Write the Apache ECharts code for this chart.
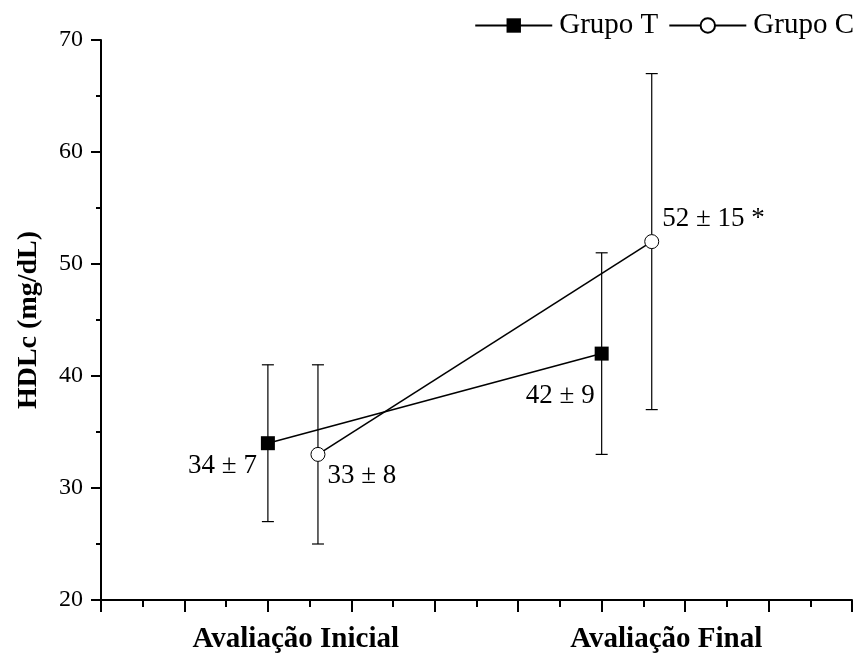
<!DOCTYPE html>
<html>
<head>
<meta charset="utf-8">
<script src="https://cdn.jsdelivr.net/npm/echarts@6/dist/echarts.min.js"></script>
<style>
  html, body { margin: 0; padding: 0; background: #fff; }
  #chart { width: 859px; height: 658px; }
</style>
</head>
<body>
<div id="chart"></div>
<script>
// HDLc means ± SD per group at the two assessments
const phases = ['Avaliação Inicial', 'Avaliação Final'];
const groups = ['Grupo T', 'Grupo C'];

// positions of each group's points along the horizontal scale
const tX = [2, 6];
const cX = [2.6, 6.6];

const tMean = [34, 42];
const tSd = [7, 9];
const cMean = [33, 52];
const cSd = [8, 15];
const cFlags = ['', '*'];   // significance marker

const yTicks = { min: 20, max: 70, step: 10 };
const xScale = { min: 0, max: 9, step: 1 };

const FONT = "'Liberation Serif', 'Times New Roman', serif";

function points(xs, ms) { return xs.map((x, i) => [x, ms[i]]); }
function bars(xs, ms, sds) { return xs.map((x, i) => [x, ms[i] - sds[i], ms[i] + sds[i]]); }
function meanText(m, sd, flag) { return m + ' ± ' + sd + (flag ? ' ' + flag : ''); }

// label placement for each point (relative to symbol box)
const tLabelPos = [
  { position: [-4, 30], align: 'right' },
  { position: [0, 49], align: 'right' }
];
const cLabelPos = [
  { position: [17, 29], align: 'left' },
  { position: [18, -15], align: 'left' }
];

function withLabels(data, pos, texts) {
  return data.map((d, i) => ({
    value: d,
    label: {
      show: true,
      position: pos[i].position,
      align: pos[i].align,
      verticalAlign: 'middle',
      formatter: texts[i],
      fontFamily: FONT,
      fontSize: 27,
      color: '#000'
    }
  }));
}

const errorRender = function (params, api) {
  const x = api.value(0);
  const lo = api.coord([x, api.value(1)]);
  const hi = api.coord([x, api.value(2)]);
  const half = 6;
  const style = { stroke: '#000', lineWidth: 1.2 };
  return {
    type: 'group',
    children: [
      { type: 'line', shape: { x1: lo[0], y1: lo[1], x2: hi[0], y2: hi[1] }, style },
      { type: 'line', shape: { x1: lo[0] - half, y1: lo[1], x2: lo[0] + half, y2: lo[1] }, style },
      { type: 'line', shape: { x1: hi[0] - half, y1: hi[1], x2: hi[0] + half, y2: hi[1] }, style }
    ]
  };
};

const chart = echarts.init(document.getElementById('chart'), null, { renderer: 'canvas' });

chart.setOption({
  animation: false,
  backgroundColor: '#fff',
  grid: { left: 101, right: 7, top: 40, bottom: 58, containLabel: false, outerBoundsMode: 'none' },
  legend: {
    data: groups,
    right: 0,
    top: 6,
    itemWidth: 77,
    itemHeight: 18,
    itemGap: 10,
    textStyle: { fontFamily: FONT, fontSize: 29, color: '#000', padding: [0, 0, 0, 2] },
    selectedMode: false
  },
  xAxis: [
    {
      type: 'value',
      min: xScale.min,
      max: xScale.max,
      interval: xScale.step,
      axisLine: { show: true, onZero: false, lineStyle: { color: '#000', width: 2 } },
      axisTick: { show: true, inside: false, length: 12, lineStyle: { color: '#000', width: 2 } },
      minorTick: { show: true, splitNumber: 2, length: 7, lineStyle: { color: '#000', width: 2 } },
      axisLabel: { show: false },
      splitLine: { show: false }
    },
    {
      type: 'category',
      data: [
        { value: phases[0], textStyle: { padding: [0, 0, 0, 14] } },
        { value: phases[1], textStyle: { padding: [0, 0, 0, 4] } }
      ],
      position: 'bottom',
      axisLine: { show: false },
      axisTick: { show: false },
      splitLine: { show: false },
      axisLabel: {
        margin: 25,
        fontFamily: FONT,
        fontSize: 29,
        fontWeight: 'bold',
        color: '#000'
      }
    }
  ],
  yAxis: {
    type: 'value',
    min: yTicks.min,
    max: yTicks.max,
    interval: yTicks.step,
    name: 'HDLc (mg/dL)',
    nameLocation: 'middle',
    nameGap: 58,
    nameRotate: 90,
    nameTextStyle: { fontFamily: FONT, fontSize: 28, fontWeight: 'bold', color: '#000' },
    axisLine: { show: true, lineStyle: { color: '#000', width: 2 } },
    axisTick: { show: true, inside: false, length: 10, lineStyle: { color: '#000', width: 2 } },
    minorTick: { show: true, splitNumber: 2, length: 5, lineStyle: { color: '#000', width: 2 } },
    axisLabel: { margin: 18, fontFamily: FONT, fontSize: 24, color: '#000' },
    splitLine: { show: false }
  },
  series: [
    {
      type: 'custom',
      name: 'err-T',
      xAxisIndex: 0,
      renderItem: errorRender,
      data: bars(tX, tMean, tSd),
      z: 1,
      silent: true
    },
    {
      type: 'custom',
      name: 'err-C',
      xAxisIndex: 0,
      renderItem: errorRender,
      data: bars(cX, cMean, cSd),
      z: 1,
      silent: true
    },
    {
      type: 'line',
      name: groups[0],
      xAxisIndex: 0,
      data: withLabels(points(tX, tMean), tLabelPos,
        tMean.map((m, i) => meanText(m, tSd[i], ''))),
      symbol: 'rect',
      symbolSize: 14,
      lineStyle: { color: '#000', width: 1.6 },
      itemStyle: { color: '#000', borderColor: '#000', borderWidth: 0 },
      emphasis: { disabled: true },
      z: 3
    },
    {
      type: 'line',
      name: groups[1],
      xAxisIndex: 0,
      data: withLabels(points(cX, cMean), cLabelPos,
        cMean.map((m, i) => meanText(m, cSd[i], cFlags[i]))),
      symbol: 'circle',
      symbolSize: 14,
      lineStyle: { color: '#000', width: 1.6 },
      itemStyle: { color: '#fff', borderColor: '#000', borderWidth: 1 },
      emphasis: { disabled: true },
      z: 3
    }
  ]
});
</script>
</body>
</html>
